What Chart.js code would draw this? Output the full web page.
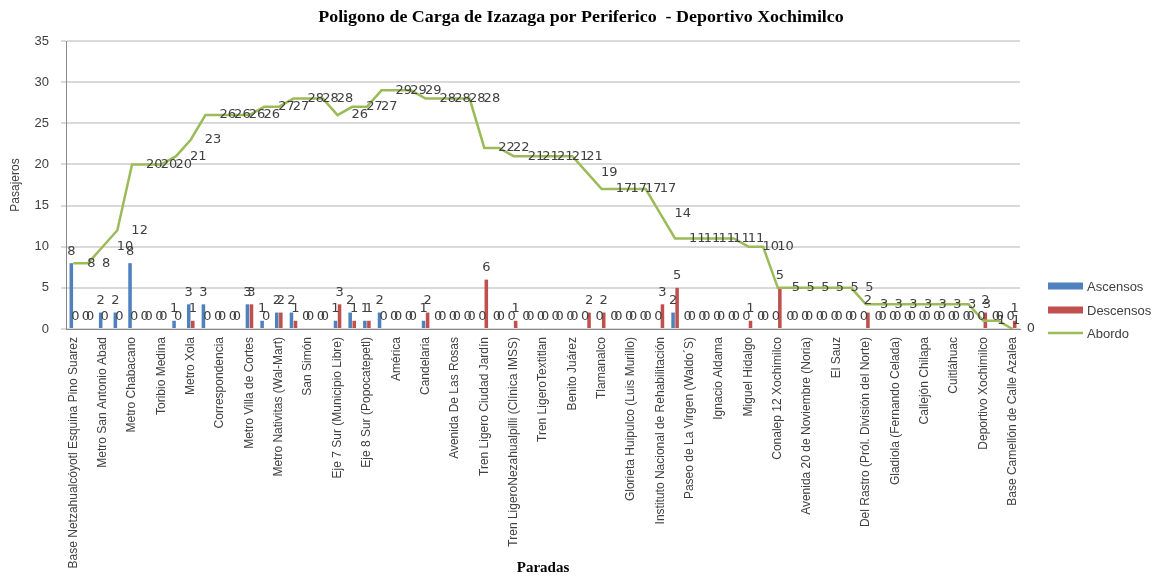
<!DOCTYPE html>
<html>
<head>
<meta charset="utf-8">
<script src="https://cdn.jsdelivr.net/npm/chart.js@4.4.1/dist/chart.umd.min.js"></script>
<style>
html,body{margin:0;padding:0;background:#ffffff;}
#wrap{width:1163px;height:578px;}
</style>
</head>
<body>
<div id="wrap"><canvas id="chart" width="1163" height="578"></canvas></div>
<script>
// Stops (only every other stop name is visible in the reference; hidden ones left blank)
const stops = [
  'Base Netzahualcóyotl Esquina Pino Suarez', '',
  'Metro San Antonio Abad', '',
  'Metro Chabacano', '',
  'Toribio Medina', '',
  'Metro Xola', '',
  'Correspondencia', '',
  'Metro Villa de Cortes', '',
  'Metro Nativitas (Wal-Mart)', '',
  'San Simón', '',
  'Eje 7 Sur (Municipio Libre)', '',
  'Eje 8 Sur (Popocatepetl)', '',
  'América', '',
  'Candelaria', '',
  'Avenida De Las Rosas', '',
  'Tren Ligero Ciudad Jardín', '',
  'Tren LigeroNezahualpilli (Clínica IMSS)', '',
  'Tren LigeroTextitlan', '',
  'Benito Juárez', '',
  'Tlamanalco', '',
  'Glorieta Huipulco (Luis Murillo)', '',
  'Instituto Nacional de Rehabilitación', '',
  'Paseo de La Virgen (Waldo´S)', '',
  'Ignacio Aldama', '',
  'Miguel Hidalgo', '',
  'Conalep 12 Xochimilco', '',
  'Avenida 20 de Noviembre (Noria)', '',
  'El Sauz', '',
  'Del Rastro (Pról. División del Norte)', '',
  'Gladiola (Fernando Celada)', '',
  'Callejón Chilapa', '',
  'Cuitláhuac', '',
  'Deportivo Xochimilco', '',
  'Base Camellón de Calle Azalea'
];

const ascensos = [
  8, 0, 2, 2, 8, 0, 0, 1, 3, 3,
  0, 0, 3, 1, 2, 2, 0, 0, 1, 2,
  1, 2, 0, 0, 1, 0, 0, 0, 0, 0,
  0, 0, 0, 0, 0, 0, 0, 0, 0, 0,
  0, 2, 0, 0, 0, 0, 0, 0, 0, 0,
  0, 0, 0, 0, 0, 0, 0, 0, 0, 0,
  0, 0, 0, 0, 0
];

const descensos = [
  0, 0, 0, 0, 0, 0, 0, 0, 1, 0,
  0, 0, 3, 0, 2, 1, 0, 0, 3, 1,
  1, 0, 0, 0, 2, 0, 0, 0, 6, 0,
  1, 0, 0, 0, 0, 2, 2, 0, 0, 0,
  3, 5, 0, 0, 0, 0, 1, 0, 5, 0,
  0, 0, 0, 0, 2, 0, 0, 0, 0, 0,
  0, 0, 2, 0, 1
];

const abordo = [
  8, 8, 10, 12, 20, 20, 20, 21, 23, 26,
  26, 26, 26, 27, 27, 28, 28, 28, 26, 27,
  27, 29, 29, 29, 28, 28, 28, 28, 22, 22,
  21, 21, 21, 21, 21, 19, 17, 17, 17, 17,
  14, 11, 11, 11, 11, 11, 10, 10, 5, 5,
  5, 5, 5, 5, 3, 3, 3, 3, 3, 3,
  3, 3, 1, 1, 0
];

const chartTitle = 'Poligono de Carga de Izazaga por Periferico  - Deportivo Xochimilco';
const yMin = 0, yMax = 35, yStep = 5;

const COLORS = { asc: '#4f81bd', desc: '#c0504d', line: '#9bbb59', text: '#404040', grid: '#d9d9d9', axis: '#898989' };

const titlePlugin = {
  id: 'stretchedTitle',
  afterDraw(chart) {
    const ctx = chart.ctx;
    ctx.save();
    ctx.font = 'bold 16px "Liberation Serif", "Times New Roman", serif';
    ctx.fillStyle = '#000000';
    ctx.textAlign = 'center';
    ctx.textBaseline = 'middle';
    ctx.translate(581, 18);
    ctx.scale(1.12, 1);
    ctx.fillText(chartTitle, 0, 0);
    ctx.restore();
  }
};

const valueLabels = {
  id: 'valueLabels',
  afterDatasetsDraw(chart) {
    const ctx = chart.ctx;
    ctx.save();
    ctx.font = '13px "DejaVu Sans"';
    ctx.fillStyle = COLORS.text;
    ctx.textBaseline = 'middle';
    chart.data.datasets.forEach((ds, di) => {
      const meta = chart.getDatasetMeta(di);
      meta.data.forEach((el, i) => {
        const v = ds.data[i];
        if (ds.type === 'line') {
          ctx.textAlign = 'left';
          ctx.fillText(String(v), el.x + 14, el.y);
        } else {
          ctx.textAlign = 'center';
          ctx.fillText(String(v), el.x, el.y - 12);
        }
      });
    });
    ctx.restore();
  }
};

const customLegend = {
  id: 'customLegend',
  afterDraw(chart) {
    const ctx = chart.ctx;
    const items = chart.data.datasets.map(ds => ({ text: ds.label, color: ds.type === 'line' ? ds.borderColor : ds.backgroundColor, line: ds.type === 'line' }));
    const x0 = 1048, x1 = 1083, tx = 1087;
    const ys = [286, 310, 333];
    ctx.save();
    ctx.font = '13px "Liberation Sans", Arial, sans-serif';
    ctx.textBaseline = 'middle';
    ctx.textAlign = 'left';
    items.forEach((it, k) => {
      const y = ys[k];
      if (it.line) {
        ctx.strokeStyle = it.color; ctx.lineWidth = 2.5;
        ctx.beginPath(); ctx.moveTo(x0, y); ctx.lineTo(x1, y); ctx.stroke();
      } else {
        ctx.fillStyle = it.color;
        ctx.fillRect(x0, y - 3.5, x1 - x0, 7);
      }
      ctx.fillStyle = COLORS.text;
      ctx.fillText(it.text, tx, y + 1);
    });
    ctx.restore();
  }
};

new Chart(document.getElementById('chart'), {
  type: 'bar',
  data: {
    labels: stops,
    datasets: [
      { type: 'bar', label: 'Ascensos', data: ascensos, backgroundColor: COLORS.asc, categoryPercentage: 0.55, barPercentage: 0.88, order: 2 },
      { type: 'bar', label: 'Descensos', data: descensos, backgroundColor: COLORS.desc, categoryPercentage: 0.55, barPercentage: 0.88, order: 2 },
      { type: 'line', label: 'Abordo', data: abordo, borderColor: COLORS.line, backgroundColor: COLORS.line, borderWidth: 2.5, pointRadius: 0, tension: 0, fill: false, order: 1 }
    ]
  },
  options: {
    responsive: false,
    animation: false,
    devicePixelRatio: 1,
    layout: { padding: { left: 0, right: 143, top: 41, bottom: 0 } },
    plugins: {
      legend: { display: false },
      tooltip: { enabled: false },
      title: { display: false }
    },
    scales: {
      x: {
        offset: true,
        grid: { display: false, drawTicks: false },
        border: { display: true, color: COLORS.axis, width: 1 },
        ticks: {
          autoSkip: false,
          minRotation: 90,
          maxRotation: 90,
          padding: 8,
          color: COLORS.text,
          font: { family: '"Liberation Sans", Arial, sans-serif', size: 12 },
          callback: function(value, index) { return stops[index]; }
        },
        title: {
          display: true,
          text: 'Paradas',
          color: '#000000',
          font: { family: '"Liberation Serif", "Times New Roman", serif', size: 15, weight: 'bold' },
          padding: { top: 0, bottom: 1 }
        },
        afterFit: function(scale) { scale.height = 249; }
      },
      y: {
        min: yMin,
        max: yMax,
        ticks: { stepSize: yStep, padding: 12, color: COLORS.text, font: { family: '"Liberation Sans", Arial, sans-serif', size: 13 } },
        grid: { color: COLORS.grid, lineWidth: 2, tickLength: 5, tickColor: COLORS.grid },
        border: { display: true, color: COLORS.axis, width: 1 },
        title: {
          display: true,
          text: 'Pasajeros',
          color: COLORS.text,
          font: { family: '"Liberation Sans", Arial, sans-serif', size: 12 },
          padding: { top: 8, bottom: 0 }
        },
        afterFit: function(scale) { scale.width = 66; }
      }
    }
  },
  plugins: [valueLabels, customLegend, titlePlugin]
});
</script>
</body>
</html>
